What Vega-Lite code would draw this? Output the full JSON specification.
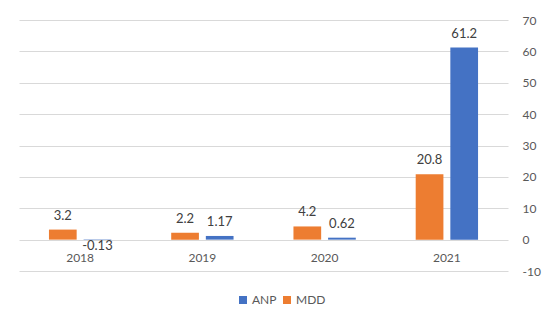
{
  "$schema": "https://vega.github.io/schema/vega-lite/v6.json",
  "width": 489,
  "height": 251,
  "autosize": "none",
  "padding": {"left": 19, "top": 20, "right": 42, "bottom": 54},
  "background": "white",
  "config": {
    "view": {"stroke": null},
    "font": "Lato",
    "axis": {"labelFont": "Lato", "labelColor": "#595959", "labelFontSize": 12},
    "legend": {"labelFont": "Lato", "labelColor": "#595959", "labelFontSize": 12}
  },
  "data": {
    "values": [
      {"year": "2018", "series": "MDD", "value": 3.2},
      {"year": "2018", "series": "ANP", "value": -0.13},
      {"year": "2019", "series": "MDD", "value": 2.2},
      {"year": "2019", "series": "ANP", "value": 1.17},
      {"year": "2020", "series": "MDD", "value": 4.2},
      {"year": "2020", "series": "ANP", "value": 0.62},
      {"year": "2021", "series": "MDD", "value": 20.8},
      {"year": "2021", "series": "ANP", "value": 61.2}
    ]
  },
  "encoding": {
    "x": {
      "field": "year", "type": "nominal",
      "scale": {"paddingInner": 0.49, "paddingOuter": 0.245},
      "axis": {"title": null, "labelAngle": 0, "domain": false, "ticks": false, "offset": -31, "labelPadding": 12}
    },
    "xOffset": {
      "field": "series", "type": "nominal",
      "sort": ["MDD", "ANP"],
      "scale": {"paddingInner": 0.2, "paddingOuter": 0}
    },
    "y": {
      "field": "value", "type": "quantitative",
      "scale": {"domain": [-10, 70], "nice": false},
      "axis": {
        "title": null, "orient": "right", "values": [-10, 0, 10, 20, 30, 40, 50, 60, 70],
        "domain": false, "ticks": false, "gridColor": "#d9d9d9", "gridWidth": 1,
        "labelPadding": 14, "labelAlign": "left", "labelBaseline": "middle",
        "labelExpr": "replace(datum.label, '\u2212', '-')"
      }
    }
  },
  "layer": [
    {
      "mark": {"type": "bar"},
      "encoding": {
        "color": {
          "field": "series", "type": "nominal",
          "scale": {"domain": ["ANP", "MDD"], "range": ["#4472C4", "#ED7D31"]},
          "legend": {
            "title": null, "orient": "none", "direction": "horizontal",
            "legendX": 218, "legendY": 274, "symbolType": "square", "symbolSize": 64,
            "symbolStrokeWidth": 0, "columnPadding": 4, "labelOffset": 3
          }
        }
      }
    },
    {
      "transform": [{"filter": "datum.value >= 0"}],
      "mark": {"type": "text", "baseline": "bottom", "dy": -7, "fontSize": 13, "color": "#404040"},
      "encoding": {"text": {"field": "value", "type": "nominal"}}
    },
    {
      "transform": [{"filter": "datum.value < 0"}],
      "mark": {"type": "text", "baseline": "top", "dy": 0, "fontSize": 13, "color": "#404040"},
      "encoding": {"text": {"field": "value", "type": "nominal"}}
    }
  ]
}
